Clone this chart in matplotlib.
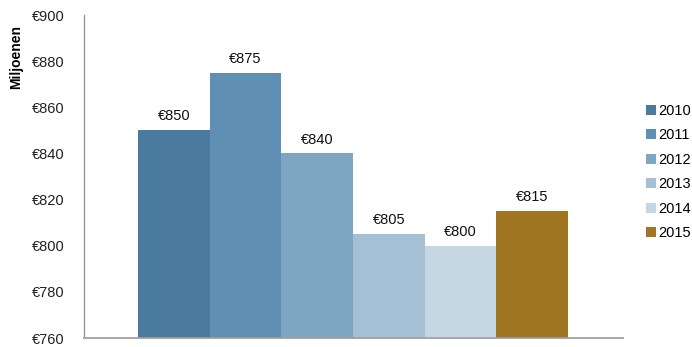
import matplotlib
matplotlib.use("Agg")
import matplotlib.pyplot as plt
from matplotlib.patches import Patch

years = ["2010", "2011", "2012", "2013", "2014", "2015"]
values = [850, 875, 840, 805, 800, 815]
colors = ["#4a7a9e", "#5f8fb3", "#7ea5c1", "#a5c0d4", "#c6d7e4", "#a07522"]
yticks = [760, 780, 800, 820, 840, 860, 880, 900]

plt.rcParams["font.family"] = ["Liberation Sans", "DejaVu Sans"]

fig = plt.figure(figsize=(6.92, 3.47), dpi=100)
ax = fig.add_axes([84 / 692, 1 - 338 / 347, (623 - 84) / 692, (338 - 15) / 347])

xs = list(range(len(years)))
ax.bar(xs, [v - 760 for v in values], bottom=760, width=1.0, color=colors, linewidth=0)

for x, v in zip(xs, values):
    ax.text(x, v + 3, f"€{v}", ha="center", va="bottom", fontsize=10.5, color="#111111")

ax.set_ylim(760, 900)
ax.set_xlim(-1.253, 6.267)
ax.set_yticks(yticks)
ax.set_yticklabels([f"€{t}" for t in yticks], fontsize=10.5, color="#222222")
ax.set_xticks([])
ax.tick_params(axis="y", length=0, pad=14)

for side in ("top", "right"):
    ax.spines[side].set_visible(False)
ax.spines["left"].set_color("#909090")
ax.spines["bottom"].set_color("#a0a0a0")
ax.spines["left"].set_linewidth(0.9)
ax.spines["bottom"].set_linewidth(1.3)

ax.set_ylabel("Miljoenen", fontsize=10, fontweight="bold")
ax.yaxis.set_label_coords(-0.113, 0.87)

handles = [Patch(facecolor=c, edgecolor="none") for c in colors]
fig.legend(handles, years, loc="center left", bbox_to_anchor=(640 / 692, 1 - 172 / 347),
           frameon=False, fontsize=10.5, handlelength=0.7, handleheight=0.7,
           handletextpad=0.15, labelspacing=0.72, borderaxespad=0)

fig.savefig("out.png", dpi=100)
